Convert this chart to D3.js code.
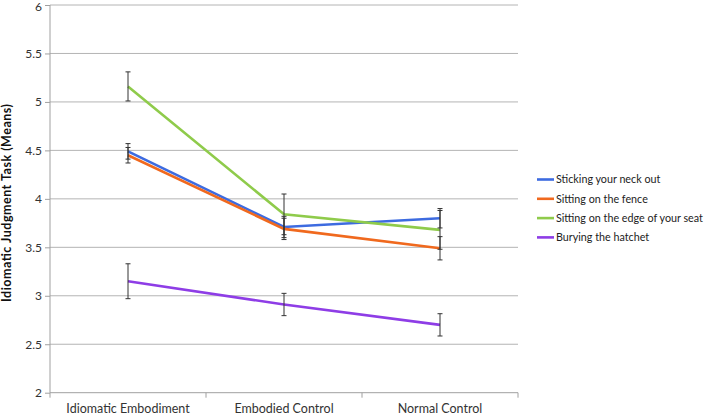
<!DOCTYPE html>
<html><head><meta charset="utf-8">
<script src="https://cdn.jsdelivr.net/npm/d3@7"></script>
<style>body{margin:0;background:#fff}svg{display:block}</style>
</head><body><svg id="c" width="708" height="415"></svg>
<script>
const categories = ["Idiomatic Embodiment", "Embodied Control", "Normal Control"];
const seriesNames = ["Sticking your neck out", "Sitting on the fence", "Sitting on the edge of your seat", "Burying the hatchet"];
const seriesColors = ["#3D6BE0", "#F0691E", "#8FCB4B", "#8E3DE6"];
const neckMeans = [4.49, 3.71, 3.80];
const neckErr = [0.08, 0.11, 0.10];
const fenceMeans = [4.45, 3.69, 3.49];
const fenceErr = [0.08, 0.11, 0.12];
const seatMeans = [5.16, 3.84, 3.68];
const seatErr = [0.15, 0.21, 0.20];
const hatchetMeans = [3.15, 2.91, 2.70];
const hatchetErr = [0.18, 0.115, 0.115];
const yTicks = [2, 2.5, 3, 3.5, 4, 4.5, 5, 5.5, 6];
const yTitle = "Idiomatic Judgment Task (Means)";

const series = [
  {name: seriesNames[0], color: seriesColors[0], m: neckMeans, e: neckErr},
  {name: seriesNames[1], color: seriesColors[1], m: fenceMeans, e: fenceErr},
  {name: seriesNames[2], color: seriesColors[2], m: seatMeans, e: seatErr},
  {name: seriesNames[3], color: seriesColors[3], m: hatchetMeans, e: hatchetErr}
];

const svg = d3.select("#c");
const font = "Lato, 'Open Sans', sans-serif";
const x = d3.scaleBand().domain(categories).range([50, 518]);
const y = d3.scaleLinear().domain([2, 6]).range([392.7, 5]);

// gridlines
svg.append("g").selectAll("line").data(yTicks.slice(1)).join("line")
  .attr("x1", 50).attr("x2", 518)
  .attr("y1", d => y(d)).attr("y2", d => y(d))
  .attr("stroke", "#b4b4b4").attr("stroke-width", 1);

// y axis
const ya = svg.append("g").attr("transform", "translate(50,0)")
  .call(d3.axisLeft(y).tickValues(yTicks).tickSize(5).tickPadding(3).tickFormat(d3.format("")));
ya.select(".domain").attr("stroke", "#a0a0a0").attr("d", `M0,${y(6)}V${y(2)}`);
ya.selectAll(".tick line").attr("stroke", "#a0a0a0");
ya.selectAll("text").attr("font-family", font).attr("font-size", 12).attr("fill", "#333")
  .attr("dy", d => d === 6 ? "0.42em" : "0.32em");

// x axis
const xa = svg.append("g").attr("transform", `translate(0,${y(2)})`)
  .call(d3.axisBottom(x).tickSize(0).tickPadding(11));
xa.select(".domain").attr("stroke", "#a0a0a0").attr("d", `M50,0H518`);
xa.selectAll("text").attr("font-family", font).attr("font-size", 12.5).attr("fill", "#333");
const bounds = [50, ...categories.map(c => x(c) + x.bandwidth())];
xa.selectAll(".sep").data(bounds).join("line").attr("class", "sep")
  .attr("x1", d => d).attr("x2", d => d).attr("y1", 0).attr("y2", 5)
  .attr("stroke", "#a0a0a0");

// y title
svg.append("text").attr("transform", `translate(11,203) rotate(-90)`)
  .attr("text-anchor", "middle").attr("font-family", font).attr("font-size", 12.5)
  .attr("font-weight", "bold").attr("fill", "#111")
  .attr("textLength", 198).attr("lengthAdjust", "spacing").text(yTitle);

const cx = c => x(c) + x.bandwidth() / 2;
const line = d3.line().x((d, i) => cx(categories[i])).y(d => y(d));

// lines
svg.append("g").selectAll("path").data(series).join("path")
  .attr("d", s => line(s.m)).attr("fill", "none")
  .attr("stroke", s => s.color).attr("stroke-width", 2.6);

// error bars
const eb = svg.append("g");
series.forEach(s => {
  s.m.forEach((v, i) => {
    const px = cx(categories[i]);
    const g = eb.append("g").attr("stroke", "#333").attr("stroke-width", 1);
    g.append("line").attr("x1", px).attr("x2", px).attr("y1", y(v - s.e[i])).attr("y2", y(v + s.e[i]));
    [v - s.e[i], v + s.e[i]].forEach(t => g.append("line")
      .attr("x1", px - 2.5).attr("x2", px + 2.5).attr("y1", y(t)).attr("y2", y(t)));
  });
});

// legend
const lg = svg.append("g").selectAll("g").data(series).join("g")
  .attr("transform", (d, i) => `translate(537,${179.5 + i * 19.3})`);
lg.append("line").attr("x1", 0).attr("x2", 17).attr("stroke", d => d.color).attr("stroke-width", 2.6);
const lt = lg.append("text").attr("x", 19).attr("dy", "0.35em").attr("font-family", font)
  .attr("font-size", 12.5).attr("fill", "#222").text(d => d.name);
let maxW = 0;
lt.each(function() { maxW = Math.max(maxW, this.getComputedTextLength()); });
if (maxW > 147) lt.attr("font-size", 12.5 * 147 / maxW);
</script></body></html>
